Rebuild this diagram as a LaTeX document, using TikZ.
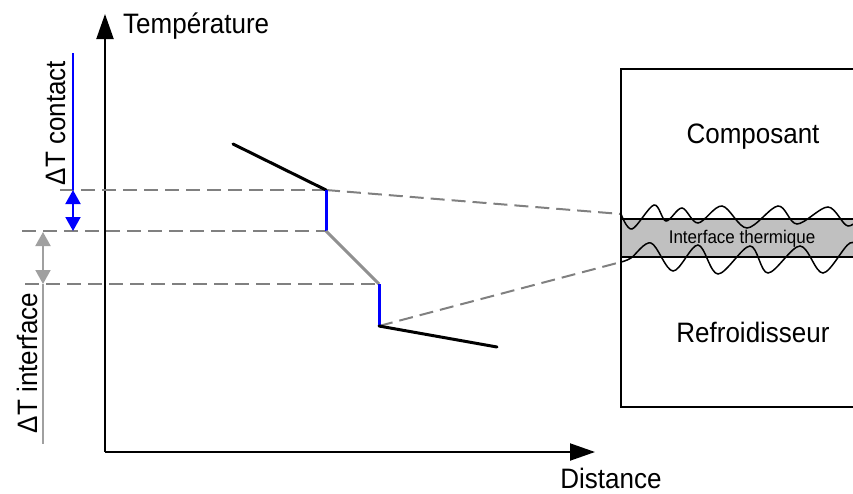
\documentclass[tikz,border=0pt]{standalone}
\usepackage{fontspec}
\setmainfont{Liberation Sans}
\usepackage{tikz}
\usetikzlibrary{arrows.meta,calc,positioning}
\definecolor{dimBlue}{HTML}{0000FF}
\definecolor{guideGray}{HTML}{808080}
\definecolor{dimGray}{HTML}{A0A0A0}
\definecolor{slopeGray}{HTML}{909090}
\definecolor{bandGray}{HTML}{C0C0C0}

\begin{document}
\begin{tikzpicture}[
    x=1pt,y=-1pt,
    axisline/.style={draw=black,line width=2pt,-{Triangle[length=25pt,width=17pt]}},
    curveblack/.style={draw=black,line width=3pt},
    curveblue/.style={draw=dimBlue,line width=3pt},
    curvegray/.style={draw=slopeGray,line width=3pt},
    guide/.style={draw=guideGray,line width=2pt,dash pattern=on 14pt off 7pt},
    contactdim/.style={draw=dimBlue,line width=2pt},
    interfacedim/.style={draw=dimGray,line width=2pt},
    dimtips/.style={{Triangle[length=14pt,width=15pt]}-{Triangle[length=14pt,width=15pt]}},
    wave/.style={draw=black,line width=1.5pt},
    lbl/.style={inner sep=0pt,yscale=1.08,font=\fontsize{26}{30}\selectfont},
    vlbl/.style={inner sep=0pt,xscale=1.08,rotate=90,font=\fontsize{26}{30}\selectfont},
    smalllbl/.style={inner sep=0pt,yscale=1.08,font=\fontsize{17}{20}\selectfont}
  ]
    \useasboundingbox (0,0) rectangle (853,493);
    \clip (0,0) rectangle (853,493);

    % axes
    \coordinate (O) at (105,452);
    \coordinate (ytip) at (105,14);
    \coordinate (xtip) at (595,452);
    \draw[axisline] (O)--(ytip);
    \draw[axisline] (O)--(xtip);
    \node[lbl,anchor=base west] (ylabel) at (123,33) {Température};
    \node[lbl,anchor=base] (xlabel) at (611,488) {Distance};

    % temperature profile
    \coordinate (c1) at (233,144);
    \coordinate (c2) at (326,190);
    \coordinate (c3) at (326,231);
    \coordinate (c4) at (379,284);
    \coordinate (c5) at (379,326);
    \coordinate (c6) at (497,347);

    % guide lines
    \coordinate (g1) at (60,190);
    \coordinate (g2) at (22,231);
    \coordinate (g3) at (25,284);
    \coordinate (iftop) at (621,214);
    \coordinate (ifbot) at (621,262);
    \draw[guide] (g1)--(c2);
    \draw[guide] (g2)--(c3);
    \draw[guide] (g3)--(c4);
    \draw[guide] (c2)--(iftop);
    \draw[guide] (c5)--(ifbot);

    \draw[curveblack,line cap=round] (c1)--(c2);
    \draw[curveblue] (c2)--(c3);
    \draw[curvegray] (c3)--(c4);
    \draw[curveblue] (c4)--(c5);
    \draw[curveblack,line cap=round] (c5)--(c6);

    % delta T contact
    \coordinate (ct0) at (73,53);
    \coordinate (ct1) at (73,190);
    \coordinate (ct2) at (73,231);
    \draw[contactdim] (ct0)--(ct1);
    \draw[contactdim,dimtips] (ct1)--(ct2);
    \node[vlbl,anchor=base] (dtcontact) at (65,123) {ΔT contact};

    % delta T interface
    \coordinate (it1) at (43,232);
    \coordinate (it2) at (43,284);
    \coordinate (it3) at (43,444);
    \draw[interfacedim,dimtips] (it1)--(it2);
    \draw[interfacedim] (it2)--(it3);
    \node[vlbl,anchor=base] (dtinterface) at (37,363) {ΔT interface};

    % assembly
    \draw[line width=2pt] (621,69) rectangle (880,407);
    \fill[bandGray] (621,219) rectangle (880,257);
    \draw[line width=1.5pt] (621,219) rectangle (880,257);
    \draw[wave] plot[smooth,tension=0.55] coordinates {(iftop) (632,229) (654,205) (666,221)
      (682,208) (698,223) (722,206) (747,228) (778,206) (797,224) (828,207) (848,226) (866,212)};
    \draw[wave] plot[smooth,tension=0.55] coordinates {(ifbot) (631,258) (651,243) (673,271)
      (698,245) (718,274) (750,246) (768,273) (800,246) (823,273) (850,243) (866,252)};
    \node[lbl,anchor=base] (comp) at (753,143) {Composant};
    \node[lbl,anchor=base] (refr) at (753,342) {Refroidisseur};
    \node[smalllbl,anchor=base] (itf) at (742,243) {Interface thermique};
  \end{tikzpicture}
\end{document}
